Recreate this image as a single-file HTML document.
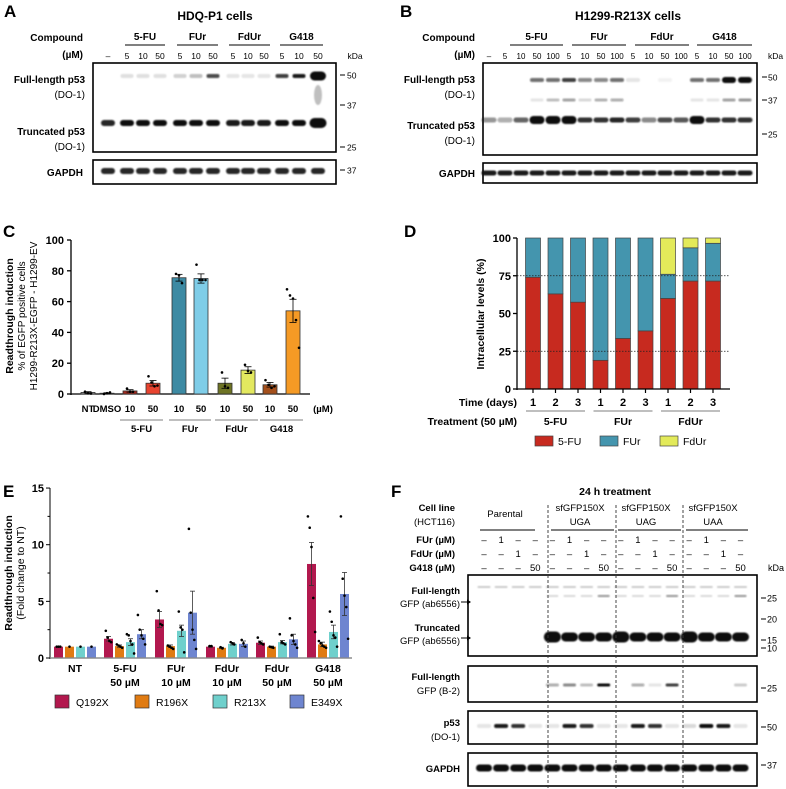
<!DOCTYPE html>
<html><head><meta charset="utf-8">
<style>
html,body{margin:0;padding:0;background:#fff;}
svg{display:block;font-family:"Liberation Sans",Arial,sans-serif;}
.b{font-weight:bold;}
</style></head>
<body>
<svg id="fig" width="786" height="789" viewBox="0 0 786 789" xmlns="http://www.w3.org/2000/svg">
<defs>
<filter id="blur" x="-20%" y="-50%" width="140%" height="200%"><feGaussianBlur stdDeviation="0.9"/></filter>
</defs>
<text x="4" y="17" font-size="17" class="b">A</text>
<text x="400" y="17" font-size="17" class="b">B</text>
<text x="3" y="237" font-size="17" class="b">C</text>
<text x="404" y="237" font-size="17" class="b">D</text>
<text x="3" y="497" font-size="17" class="b">E</text>
<text x="391" y="497" font-size="17" class="b">F</text>

<g id="pa"></g>
<g id="pb"></g>
<g id="pc"></g>
<g id="pd"></g>
<g id="pe"></g>
<g id="pf"></g>
</svg>
<script>
// ---------- Panel C data ----------
const cCategories = ["NT","DMSO","10","50","10","50","10","50","10","50"];
const cValues = [1, 0.5, 2, 7, 75.5, 75, 7, 15.5, 6, 54];
const cErrors = [0.5, 0.3, 0.8, 1.8, 2.2, 3, 3.3, 2.2, 1.5, 7.5];
const cPoints = [[1.5,0.5,0.3],[0,0.5,1],[3.5,1.5,1.5],[11.5,7.5,5,5.5],[78,77,72],[84,74,74,74],[14,5,4],[19,15,14],[9,6,4,5],[68,64,62,48,30]];
const cTicks = [0,20,40,60,80,100];
const cGroups = ["5-FU","FUr","FdUr","G418"];
// ---------- Panel D data ----------
const dTimes = ["1","2","3","1","2","3","1","2","3"];
const dGroups = ["5-FU","FUr","FdUr"];
const d5FU = [74, 63, 57.5, 19, 33.5, 38.5, 60, 71.5, 71.5];
const dFUr = [26, 37, 42.5, 81, 66.5, 61.5, 16, 22, 25];
const dFdUr = [0, 0, 0, 0, 0, 0, 24, 6.5, 3.5];
const dTicks = [0,25,50,75,100];
// ---------- Panel E data ----------
const eGroups = [["NT"],["5-FU","50 µM"],["FUr","10 µM"],["FdUr","10 µM"],["FdUr","50 µM"],["G418","50 µM"]];
const eSeriesNames = ["Q192X","R196X","R213X","E349X"];
const eQ192X = [1, 1.7, 3.4, 1.0, 1.35, 8.3];
const eR196X = [1, 1.05, 1.05, 0.9, 1.0, 1.2];
const eR213X = [1, 1.4, 2.4, 1.25, 1.4, 2.3];
const eE349X = [1, 2.1, 4.0, 1.25, 1.65, 5.65];
const eErrQ192X = [0, 0.2, 0.7, 0.05, 0.15, 1.9];
const eErrR196X = [0, 0.1, 0.1, 0.05, 0.05, 0.2];
const eErrR213X = [0, 0.3, 0.5, 0.1, 0.15, 0.6];
const eErrE349X = [0, 0.4, 1.9, 0.25, 0.45, 1.9];
const ePtsQ192X = [[1,1,1],[2.4,1.8,1.5,1.4],[5.9,4.2,3.0,2.9],[1.05,1.05],[1.8,1.4,1.3,1.2],[12.5,11.5,9.8,5.3,2.3]];
const ePtsR196X = [[1],[1.2,1.1,1.0,0.9],[1.1,1.0,0.9,0.8],[0.95,0.85],[1.0,0.95,0.9],[1.5,1.3,1.1,1.0,0.9]];
const ePtsR213X = [[1],[2.1,2.0,1.5,1.2,0.4],[4.1,2.7,2.5,0.5],[1.4,1.3,1.2],[2.1,1.4,1.3,1.2],[4.1,3.2,2.0,1.8,1.0]];
const ePtsE349X = [[1],[3.8,2.5,2.0,1.7,1.2],[11.4,4.0,2.5,1.6,0.8],[1.6,1.3,1.0],[3.5,2.0,1.5,1.2,0.9],[12.5,7.0,5.5,4.5,1.7]];
const eTicks = [0,5,10,15];

const NS="http://www.w3.org/2000/svg";
function mk(tag, attrs, parent){const e=document.createElementNS(NS,tag);for(const k in attrs)e.setAttribute(k,attrs[k]);parent.appendChild(e);return e;}
function txt(parent,x,y,s,size,anchor,bold,name){const t=mk('text',{x:x,y:y,'font-size':size,'text-anchor':anchor||'start'},parent);if(bold)t.setAttribute('font-weight','bold');t.textContent=s;


return t;}
function line(parent,x1,y1,x2,y2,w,c,dash){const l=mk('line',{x1:x1,y1:y1,x2:x2,y2:y2,stroke:c||'#000','stroke-width':w||1},parent);if(dash)l.setAttribute('stroke-dasharray',dash);return l;}
function band(parent,x,y,w,h,intensity){if(intensity<=0)return;const b=mk('rect',{x:x-w/2,y:y-h/2,width:w,height:h,rx:h/2,fill:'#111','fill-opacity':Math.min(1,intensity),filter:'url(#blur)'},parent);


return b;}
function box(parent,x,y,w,h,name){const r=mk('rect',{x:x,y:y,width:w,height:h,fill:'#fff',stroke:'#000','stroke-width':1.6},parent);


return r;}

// ================= Panel A =================
(function(){
const g=document.getElementById('pa');
txt(g,215,20,"HDQ-P1 cells",12,'middle',true,'panel-a-title');
txt(g,83,41,"Compound",10,'end',true,'compound-label');
txt(g,83,58,"(µM)",10,'end',true,'um-label');
const groups=[["5-FU",125,165],["FUr",177,218],["FdUr",229,270],["G418",280,323]];
groups.forEach(gr=>{txt(g,(gr[1]+gr[2])/2,40,gr[0],10,'middle',true,'group-label');line(g,gr[1],45,gr[2],45,1);});
const lanes=[108,127,143,160,180,196,213,233,248,264,282,299,318];
const conc=["–","5","10","50","5","10","50","5","10","50","5","10","50"];
lanes.forEach((x,i)=>txt(g,x,59,conc[i],8.5,'middle',false,'lane-conc'));
txt(g,355,59,"kDa",8.5,'middle',false,'kda-label');
box(g,93,63,243,89,'p53-blot');
const fl=[0,0.12,0.12,0.12,0.18,0.25,0.75,0.1,0.1,0.1,0.8,0.95,1];
const tr=[0.9,1,1,1,1,1,1,0.95,0.95,0.95,1,1,1];
lanes.forEach((x,i)=>{band(g,x,76,i==12?16:13,i==12?9:4,fl[i]);band(g,x,123,i==12?17:14,i==12?10:6,tr[i]);});
band(g,318,95,8,20,0.25);
txt(g,85,83,"Full-length p53",10,'end',true,'full-length-label');
txt(g,85,98,"(DO-1)",10,'end',false,'antibody-label');
txt(g,85,135,"Truncated p53",10,'end',true,'truncated-label');
txt(g,85,150,"(DO-1)",10,'end',false,'antibody-label');
[[75,"50"],[105,"37"],[147,"25"]].forEach(m=>{line(g,340,m[0],345,m[0],1);txt(g,347,m[0]+3.5,m[1],8.5,'start',false,'marker');});
box(g,93,160,243,24,'gapdh-blot');
lanes.forEach(x=>band(g,x,171,14,6,0.9));
txt(g,83,176,"GAPDH",10,'end',true,'gapdh-label');
line(g,340,170,345,170,1);txt(g,347,173.5,"37",8.5,'start',false,'marker');
})();

// ================= Panel B =================
(function(){
const g=document.getElementById('pb');
txt(g,628,20,"H1299-R213X cells",12,'middle',true,'panel-b-title');
txt(g,475,41,"Compound",10,'end',true,'compound-label');
txt(g,475,58,"(µM)",10,'end',true,'um-label');
const groups=[["5-FU",510,563],["FUr",572,626],["FdUr",635,689],["G418",697,752]];
groups.forEach(gr=>{txt(g,(gr[1]+gr[2])/2,40,gr[0],10,'middle',true,'group-label');line(g,gr[1],45,gr[2],45,1);});
const conc=["–","5","10","50","100","5","10","50","100","5","10","50","100","5","10","50","100"];
const lanes=conc.map((c,i)=>489+i*16);
lanes.forEach((x,i)=>txt(g,x,59,conc[i],8,'middle',false,'lane-conc'));
txt(g,768,59,"kDa",8.5,'start',false,'kda-label');
box(g,483,63,274,92,'p53-blot');
const fl=[0,0,0,0.6,0.6,0.8,0.5,0.5,0.6,0.1,0,0.05,0,0.6,0.6,1,1];
const f37=[0,0,0,0.1,0.25,0.4,0.15,0.3,0.35,0,0,0,0,0.1,0.1,0.4,0.45];
const tr=[0.45,0.35,0.65,1,1,1,0.85,0.85,0.9,0.8,0.5,0.75,0.7,1,0.85,0.85,0.85];
lanes.forEach((x,i)=>{band(g,x,80,14,fl[i]>0.9?6:4,fl[i]);band(g,x,100,13,3,f37[i]);band(g,x,120,15,tr[i]>0.95?8:5,tr[i]);});
txt(g,475,83,"Full-length p53",10,'end',true,'full-length-label');
txt(g,475,98,"(DO-1)",10,'end',false,'antibody-label');
txt(g,475,129,"Truncated p53",10,'end',true,'truncated-label');
txt(g,475,144,"(DO-1)",10,'end',false,'antibody-label');
[[77,"50"],[100,"37"],[134,"25"]].forEach(m=>{line(g,762,m[0],767,m[0],1);txt(g,768,m[0]+3.5,m[1],8.5,'start',false,'marker');});
box(g,483,163,274,20,'gapdh-blot');
lanes.forEach(x=>band(g,x,173,15,5,0.95));
txt(g,475,177,"GAPDH",10,'end',true,'gapdh-label');
})();

// ================= Panel C =================
(function(){
const g=document.getElementById('pc');
const x0=71,y0=394,pxu=1.54;
const yC=v=>y0-v*pxu;
const xs=[88,107,130,153,179,201,225,248,270,293];
const xC=i=>xs[i];
const colors=["#999","#999","#a52a1e","#e8432f","#3d8aa3","#7fcde8","#6e7424","#e3e85f","#a4501c","#f59a25"];
line(g,x0,yC(100),x0,y0+1,1.3);
line(g,x0,y0,310,y0,1.3);
cTicks.forEach(t=>{line(g,x0-4,yC(t),x0,yC(t),1.3);txt(g,x0-7,yC(t)+4,String(t),11,'end',true,'y-tick-label');});
cValues.forEach((v,i)=>{const x=xC(i);
const r=mk('rect',{x:x-7,y:yC(v),width:14,height:v*pxu,fill:colors[i],stroke:'#333','stroke-width':0.8},g);


line(g,x,yC(v+cErrors[i]),x,yC(v-cErrors[i]),0.8);
line(g,x-3.5,yC(v+cErrors[i]),x+3.5,yC(v+cErrors[i]),0.8);
line(g,x-3.5,yC(v-cErrors[i]),x+3.5,yC(v-cErrors[i]),0.8);
cPoints[i].forEach((p,j)=>{const n=cPoints[i].length;const c=mk('circle',{cx:x+(j-(n-1)/2)*3,cy:yC(p),r:1.3,fill:'#000'},g);

});
txt(g,x,412,cCategories[i],9.5,'middle',true,'x-tick-label');
});
txt(g,323,412,"(µM)",9.5,'middle',true,'unit-label');
cGroups.forEach((s,k)=>{const a=xC(2+2*k)-10,b=xC(3+2*k)+10;line(g,a,420,b,420,0.8,'#555');txt(g,(a+b)/2,432,s,9.5,'middle',true,'group-label');});
const tg=mk('g',{transform:'translate(13,316) rotate(-90)'},g);
txt(tg,0,0,"Readthrough induction",10.5,'middle',true,'y-axis-title');
txt(tg,0,12,"% of EGFP positive cells",10,'middle',false,'y-axis-subtitle');
txt(tg,0,24,"H1299-R213X-EGFP - H1299-EV",10,'middle',false,'y-axis-subtitle');
})();

// ================= Panel D =================
(function(){
const g=document.getElementById('pd');
const x0=517,y0=389,pxu=1.51;
const yD=v=>y0-v*pxu;
const xD=i=>533+i*22.5;
dTicks.forEach(t=>{line(g,x0-4,yD(t),x0,yD(t),1.3);txt(g,x0-6,yD(t)+4,String(t),11,'end',true,'y-tick-label');});
d5FU.forEach((v,i)=>{const x=xD(i);let base=0;
[[d5FU[i],'#c72a1f','seg-5fu'],[dFUr[i],'#4495ae','seg-fur'],[dFdUr[i],'#e3ea5a','seg-fdur']].forEach(s=>{if(s[0]<=0)return;
const r=mk('rect',{x:x-7.5,y:yD(base+s[0]),width:15,height:s[0]*pxu,fill:s[1],stroke:'#444','stroke-width':0.7},g);


base+=s[0];});
txt(g,x,406,dTimes[i],11,'middle',true,'x-tick-label');
line(g,x,y0,x,y0+4,1.2);
});
line(g,x0,yD(75),730,yD(75),0.8,'#222','1.5,1.5');
line(g,x0,yD(25),730,yD(25),0.8,'#222','1.5,1.5');
line(g,x0,yD(100),x0,y0+1,1.3);
line(g,x0,y0,730,y0,1.3);
txt(g,517,406,"Time (days)",10.5,'end',true,'time-label');
txt(g,517,425,"Treatment (50 µM)",10.5,'end',true,'treatment-label');
dGroups.forEach((s,k)=>{const a=xD(3*k)-7,b=xD(3*k+2)+7;line(g,a,411,b,411,0.8,'#555');txt(g,(a+b)/2,425,s,10.5,'middle',true,'group-label');});
[['5-FU','#c72a1f',535],['FUr','#4495ae',600],['FdUr','#e3ea5a',660]].forEach(l=>{
const r=mk('rect',{x:l[2],y:436,width:18,height:10,fill:l[1],stroke:'#444','stroke-width':0.7},g);


txt(g,l[2]+23,445,l[0],10.5,'start',false,'legend-entry');});
const tg=mk('g',{transform:'translate(484,314) rotate(-90)'},g);
txt(tg,0,0,"Intracellular levels (%)",10.5,'middle',true,'y-axis-title');
})();

// ================= Panel E =================
(function(){
const g=document.getElementById('pe');
const x0=50,y0=658,pxu=11.33;
const yE=v=>y0-v*pxu;
const gc=[75,125,176,227,277,328];
const offs=[-16.5,-5.5,5.5,16.5];
const series=[eQ192X,eR196X,eR213X,eE349X];
const errs=[eErrQ192X,eErrR196X,eErrR213X,eErrE349X];
const pts=[ePtsQ192X,ePtsR196X,ePtsR213X,ePtsE349X];
const colors=["#b2184e","#e07b12","#6fd0cc","#6e85d0"];
line(g,x0,yE(15),x0,y0+1,1);
line(g,x0,y0,352,y0,1.3,'#888');
eTicks.forEach(t=>{line(g,x0-4,yE(t),x0,yE(t),1);txt(g,x0-6,yE(t)+4,String(t),11,'end',true,'y-tick-label');});
[2.5,7.5,12.5].forEach(t=>line(g,x0-2.5,yE(t),x0,yE(t),1));
series.forEach((s,si)=>s.forEach((v,gi)=>{const x=gc[gi]+offs[si];
const r=mk('rect',{x:x-4.5,y:yE(v),width:9,height:v*pxu,fill:colors[si]},g);


const e=errs[si][gi];
if(e>0){line(g,x,yE(v+e),x,yE(v-e),0.8,'#333');line(g,x-2.5,yE(v+e),x+2.5,yE(v+e),0.8,'#333');line(g,x-2.5,yE(v-e),x+2.5,yE(v-e),0.8,'#333');}
pts[si][gi].forEach((p,j)=>{const n=pts[si][gi].length;const c=mk('circle',{cx:x+(j-(n-1)/2)*1.8,cy:yE(p),r:1.3,fill:'#000'},g);

});
}));
line(g,x0,y0,352,y0,1.3,'#888');
eGroups.forEach((lab,gi)=>lab.forEach((s,k)=>txt(g,gc[gi],672+k*14,s,10.5,'middle',true,'x-tick-label')));
[55,135,213,290].forEach((x,si)=>{const r=mk('rect',{x:x,y:695,width:14,height:13,fill:colors[si],stroke:'#333','stroke-width':0.7},g);


txt(g,x+21,706,eSeriesNames[si],10.5,'start',false,'legend-entry');});
const tg=mk('g',{transform:'translate(12,573) rotate(-90)'},g);
txt(tg,0,0,"Readthrough induction",10.5,'middle',true,'y-axis-title');
txt(tg,0,12,"(Fold change to NT)",10.5,'middle',false,'y-axis-subtitle');
})();

// ================= Panel F =================
(function(){
const g=document.getElementById('pf');
txt(g,615,495,"24 h treatment",10.5,'middle',true,'panel-f-title');
txt(g,455,511,"Cell line",9.5,'end',true,'cell-line-label');
txt(g,455,525,"(HCT116)",9.5,'end',false,'cell-line-sub');
txt(g,505,517,"Parental",9.5,'middle',false,'group-label');
[[580,"UGA"],[646,"UAG"],[713,"UAA"]].forEach(c=>{txt(g,c[0],511,"sfGFP150X",9.5,'middle',false,'group-label');txt(g,c[0],525,c[1],9.5,'middle',false,'group-label');});
[[480,535],[551,614],[618,681],[686,748]].forEach(l=>line(g,l[0],530,l[1],530,0.9));
const lanes=[];for(let i=0;i<16;i++)lanes.push(484+i*17.1);
const rows=[["FUr (µM)",543,"1",1],["FdUr (µM)",557,"1",2],["G418 (µM)",571,"50",3]];
rows.forEach(r=>{txt(g,455,r[1],r[0],9.5,'end',true,'treatment-label');lanes.forEach((x,i)=>txt(g,x,r[1],(i%4===r[3])?r[2]:"–",9.5,'middle',false,'lane-value'));});
txt(g,768,571,"kDa",9,'start',false,'kda-label');
box(g,468,575,289,81,'gfp-ab6556-blot');
lanes.forEach((x,i)=>{band(g,x,587,13,2,0.2);if(i>=4)band(g,x,596,12,2,i%4===3?0.45:0.15);if(i>=4)band(g,x,637,17,i%4===0?11:9,1);});
txt(g,460,594,"Full-length",9.5,'end',true,'full-length-label');
txt(g,460,607,"GFP (ab6556)",9.5,'end',false,'antibody-label');
txt(g,460,631,"Truncated",9.5,'end',true,'truncated-label');
txt(g,460,644,"GFP (ab6556)",9.5,'end',false,'antibody-label');
[602,638].forEach(y=>{line(g,461,y,467,y,1);mk('path',{d:`M467 ${y-2.5} L471 ${y} L467 ${y+2.5}Z`,fill:'#000'},g);});
[[598,"25"],[619,"20"],[640,"15"],[648,"10"]].forEach(m=>{line(g,761,m[0],766,m[0],1);txt(g,767,m[0]+3.5,m[1],9,'start',false,'marker');});
box(g,468,666,289,36,'gfp-b2-blot');
const b2=[0,0,0,0,0.35,0.5,0.25,1,0,0.35,0.1,0.8,0,0,0,0.2];
lanes.forEach((x,i)=>band(g,x,685,13,3,b2[i]));
txt(g,460,680,"Full-length",9.5,'end',true,'full-length-label');
txt(g,460,694,"GFP (B-2)",9.5,'end',false,'antibody-label');
line(g,761,688,766,688,1);txt(g,767,691.5,"25",9,'start',false,'marker');
box(g,468,711,289,33,'p53-blot');
const p53=[0.1,0.95,0.85,0.1,0.1,0.95,0.85,0.1,0.1,0.95,0.85,0.1,0.15,1,0.95,0.1];
lanes.forEach((x,i)=>band(g,x,726,14,4,p53[i]));
txt(g,460,726,"p53",9.5,'end',true,'p53-label');
txt(g,460,740,"(DO-1)",9.5,'end',false,'antibody-label');
line(g,761,727,766,727,1);txt(g,767,730.5,"50",9,'start',false,'marker');
box(g,468,753,289,33,'gapdh-blot');
lanes.forEach(x=>band(g,x,768,16,7,1));
txt(g,460,772,"GAPDH",9.5,'end',true,'gapdh-label');
line(g,761,765,766,765,1);txt(g,767,768.5,"37",9,'start',false,'marker');
[548,616,683].forEach(x=>line(g,x,505,x,789,0.9,'#333','3,2'));
})();
</script>
</body></html>
